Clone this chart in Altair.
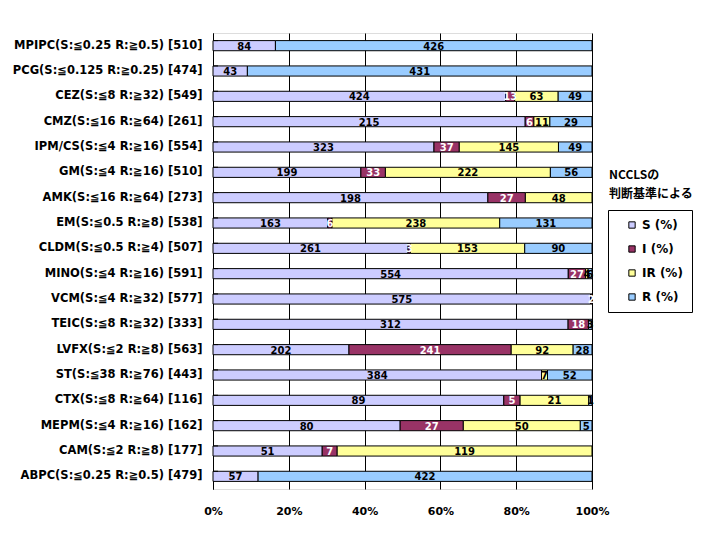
import altair as alt
import pandas as pd

drugs = [
    "MPIPC(S:≦0.25 R:≧0.5) [510]",
    "PCG(S:≦0.125 R:≧0.25) [474]",
    "CEZ(S:≦8 R:≧32) [549]",
    "CMZ(S:≦16 R:≧64) [261]",
    "IPM/CS(S:≦4 R:≧16) [554]",
    "GM(S:≦4 R:≧16) [510]",
    "AMK(S:≦16 R:≧64) [273]",
    "EM(S:≦0.5 R:≧8) [538]",
    "CLDM(S:≦0.5 R:≧4) [507]",
    "MINO(S:≦4 R:≧16) [591]",
    "VCM(S:≦4 R:≧32) [577]",
    "TEIC(S:≦8 R:≧32) [333]",
    "LVFX(S:≦2 R:≧8) [563]",
    "ST(S:≦38 R:≧76) [443]",
    "CTX(S:≦8 R:≧64) [116]",
    "MEPM(S:≦4 R:≧16) [162]",
    "CAM(S:≦2 R:≧8) [177]",
    "ABPC(S:≦0.25 R:≧0.5) [479]",
]
S = [84, 43, 424, 215, 323, 199, 198, 163, 261, 554, 575, 312, 202, 384, 89, 80, 51, 57]
I = [0, 0, 13, 6, 37, 33, 27, 6, 3, 27, 2, 18, 241, 0, 5, 27, 7, 0]
IR = [0, 0, 63, 11, 145, 222, 48, 238, 153, 4, 0, 0, 92, 7, 21, 50, 119, 0]
R = [426, 431, 49, 29, 49, 56, 0, 131, 90, 6, 0, 3, 28, 52, 1, 5, 0, 422]

series = ["S (%)", "I (%)", "IR (%)", "R (%)"]
colors = ["#CCCCFF", "#993366", "#FFFF99", "#99CCFF"]
legend_title = ["NCCLSの", "判断基準による"]
x_ticks = [0, 0.2, 0.4, 0.6, 0.8, 1.0]

FONT = "DejaVu Sans"
JFONT = "Noto Sans CJK JP"

rows = []
for si, (name, vals) in enumerate(zip(series, [S, I, IR, R])):
    for d, v in zip(drugs, vals):
        rows.append({"drug": d, "series": name, "idx": si, "value": v})
df = pd.DataFrame(rows)

yscale = alt.Scale(paddingInner=0.6, paddingOuter=0.3)
xscale = alt.Scale(domain=[0, 1])

base = alt.Chart(df)

bars = base.transform_filter("datum.value > 0").mark_bar(stroke="black", strokeWidth=1).encode(
    y=alt.Y("drug:N", sort=drugs, scale=yscale, title=None,
            axis=alt.Axis(labelFont=FONT, labelFontSize=11.5, labelFontWeight="bold",
                          labelColor="black", ticks=False, domain=True, domainColor="black",
                          labelPadding=11, labelLimit=300)),
    x=alt.X("value:Q", stack="normalize", scale=xscale, title=None,
            axis=alt.Axis(values=x_ticks, format="%", grid=True, gridColor="black",
                          gridOpacity=1, ticks=False, domain=False, labelFont=FONT,
                          labelFontSize=11, labelFontWeight="bold", labelColor="black",
                          labelPadding=16, labelFlush=False)),
    color=alt.Color("series:N", sort=series, scale=alt.Scale(domain=series, range=colors),
                    legend=alt.Legend(title=None, orient="none", legendX=395, legendY=177,
                                      strokeColor="black", fillColor="white", padding=9,
                                      symbolType="square", symbolSize=40,
                                      symbolStrokeColor="black", symbolStrokeWidth=1,
                                      symbolOffset=9, labelFont=FONT, labelFontSize=12,
                                      labelFontWeight="bold", labelColor="black",
                                      rowPadding=12, labelOffset=4)),
    order=alt.Order("idx:Q"),
)

labels = base.transform_joinaggregate(
    total="sum(value)", groupby=["drug"]
).transform_window(
    cum="sum(value)", sort=[alt.SortField("idx")], groupby=["drug"], frame=[None, 0]
).transform_calculate(
    mid="(datum.cum - datum.value / 2) / datum.total"
).transform_filter("datum.value > 0").mark_text(
    font=FONT, fontSize=10, fontWeight="bold", baseline="middle", align="center", dy=1
).encode(
    y=alt.Y("drug:N", sort=drugs, scale=yscale),
    x=alt.X("mid:Q", scale=xscale),
    text=alt.Text("value:Q"),
    color=alt.condition("datum.series == 'I (%)'", alt.value("white"), alt.value("black")),
)

ticks_df = pd.DataFrame({"drug": drugs})
inner_ticks = alt.Chart(ticks_df).mark_rule(color="black", strokeWidth=1).encode(
    y=alt.Y("drug:N", sort=drugs, scale=yscale, bandPosition=0),
    x=alt.value(0),
    x2=alt.value(5),
)

title_df = pd.DataFrame({"t": legend_title, "row": [0, 1]})
title1 = alt.Chart(title_df).transform_filter("datum.row == 0").mark_text(
    font=JFONT, fontSize=12, fontWeight="bold", align="left", baseline="middle", color="black"
).encode(x=alt.value(396), y=alt.value(142), text="t:N")
title2 = alt.Chart(title_df).transform_filter("datum.row == 1").mark_text(
    font=JFONT, fontSize=12, fontWeight="bold", align="left", baseline="middle", color="black"
).encode(x=alt.value(396), y=alt.value(161), text="t:N")

chart = alt.layer(bars, labels, inner_ticks, title1, title2).properties(
    width=379, height=456,
    autosize=alt.AutoSizeParams(type="none"),
    padding={"left": 205, "top": 25, "right": 115, "bottom": 35},
).configure_view(stroke="black", strokeWidth=1).configure(background="white")

chart.save("out.html", embed_options={"renderer": "svg", "actions": False})
